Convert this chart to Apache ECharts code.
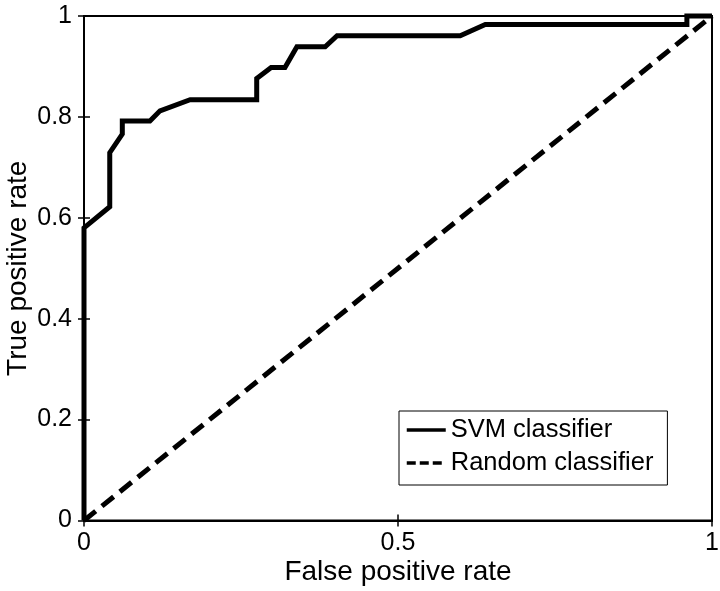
<!DOCTYPE html>
<html>
<head>
<meta charset="utf-8">
<script src="https://cdn.jsdelivr.net/npm/echarts@6/dist/echarts.min.js"></script>
<style>html,body{margin:0;padding:0;background:#fff;}#c{width:720px;height:591px;}</style>
</head>
<body>
<div id="c"></div>
<script>
var svmFpr = [0, 0, 0.041, 0.041, 0.061, 0.061, 0.105, 0.121, 0.169, 0.275, 0.275, 0.298, 0.320, 0.339, 0.384, 0.403, 0.599, 0.639, 0.960, 0.960, 1];
var svmTpr = [0, 0.580, 0.622, 0.729, 0.766, 0.792, 0.792, 0.812, 0.834, 0.834, 0.876, 0.898, 0.898, 0.939, 0.939, 0.961, 0.961, 0.983, 0.983, 1, 1];
var randFpr = [0, 1];
var randTpr = [0, 1];
var xTicks = [0, 0.5, 1];
var yTicks = [0, 0.2, 0.4, 0.6, 0.8, 1];

function pairs(xs, ys) { return xs.map(function (x, i) { return [x, ys[i]]; }); }
var font = 'Liberation Sans, Arial, Helvetica, sans-serif';
var chart = echarts.init(document.getElementById('c'), null, {renderer: 'canvas'});
var tickFmt = function (v) { return String(v); };
var tick = {show: true, inside: true, length: 6, lineStyle: {color: '#000', width: 1.5}};
var aline = {show: true, lineStyle: {color: '#000', width: 2}};
chart.setOption({
  backgroundColor: '#fff',
  animation: false,
  grid: {left: 84, right: 8, top: 16, bottom: 70.5, show: true, borderColor: '#000', borderWidth: 2,
         backgroundColor: 'transparent', containLabel: false, outerBoundsMode: 'none'},
  legend: {
    orient: 'vertical', left: 399, top: 411,
    backgroundColor: '#fff', borderColor: '#000', borderWidth: 1,
    padding: [6, 14, 9, 6], itemGap: 7, itemWidth: 39, itemHeight: 14,
    textStyle: {fontFamily: font, fontSize: 25.5, color: '#000', lineHeight: 26},
    itemStyle: {opacity: 0},
    data: [
      {name: 'SVM classifier', lineStyle: {color: '#000', width: 3.5, type: 'solid'}},
      {name: 'Random classifier', lineStyle: {color: '#000', width: 3.5, type: [9, 4]}}
    ]
  },
  xAxis: [{
    type: 'value', min: 0, max: 1, interval: 0.5, position: 'bottom',
    name: 'False positive rate', nameLocation: 'middle', nameGap: 38, nameMoveOverlap: false,
    nameTextStyle: {fontFamily: font, fontSize: 28, color: '#000'},
    axisLine: aline, axisTick: tick,
    axisLabel: {margin: 10, fontFamily: font, fontSize: 25, color: '#000', formatter: tickFmt},
    splitLine: {show: false}
  }, {
    type: 'value', min: 0, max: 1, interval: 0.5, position: 'top',
    axisLine: aline, axisTick: tick,
    axisLabel: {show: false}, splitLine: {show: false}
  }],
  yAxis: [{
    type: 'value', min: 0, max: 1, interval: 0.2, position: 'left',
    name: 'True positive rate', nameLocation: 'middle', nameGap: 52, nameMoveOverlap: false,
    nameTextStyle: {fontFamily: font, fontSize: 28, color: '#000'},
    axisLine: aline, axisTick: tick,
    axisLabel: {margin: 12, fontFamily: font, fontSize: 25, color: '#000', formatter: tickFmt},
    splitLine: {show: false}
  }, {
    type: 'value', min: 0, max: 1, interval: 0.2, position: 'right',
    axisLine: aline, axisTick: tick,
    axisLabel: {show: false}, splitLine: {show: false}
  }],
  series: [{
    name: 'SVM classifier', type: 'line', xAxisIndex: 0, yAxisIndex: 0,
    data: pairs(svmFpr, svmTpr), symbol: 'none', clip: false,
    lineStyle: {color: '#000', width: 5, join: 'miter'}, itemStyle: {color: '#000'}
  }, {
    name: 'Random classifier', type: 'line', xAxisIndex: 0, yAxisIndex: 0,
    data: pairs(randFpr, randTpr), symbol: 'none', clip: false,
    lineStyle: {color: '#000', width: 5, type: [15, 8]}, itemStyle: {color: '#000'}
  }]
});
</script>
</body>
</html>
